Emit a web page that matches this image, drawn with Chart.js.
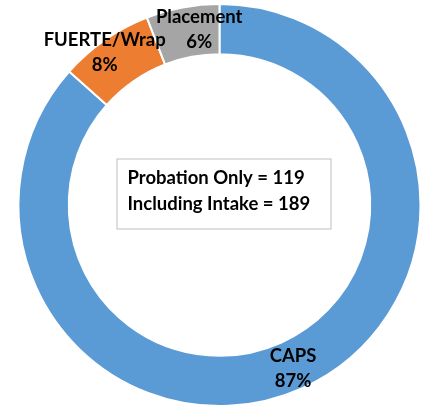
<!DOCTYPE html>
<html>
<head>
<meta charset="utf-8">
<script src="https://cdn.jsdelivr.net/npm/chart.js@4"></script>
<style>
  html, body { margin: 0; padding: 0; background: #fff; }
  #wrap { width: 430px; height: 413px; }
</style>
</head>
<body>
<div id="wrap"><canvas id="chart" width="430" height="413"></canvas></div>
<script>
// data (counts out of 119, shown as percentages)
const categories = ['CAPS', 'FUERTE/Wrap', 'Placement'];
const counts = [103, 9, 7];
const colors = ['#5B9BD5', '#ED7D31', '#A5A5A5'];
const boxLines = ['Probation Only = 119', 'Including Intake = 189'];

const FONT = 'bold 18.5px Lato, "Open Sans", sans-serif';

// nudge labels a little off the arc centre, like the excel data labels
const labelShift = [[1.5, 3], [-14.5, -8], [12, -3]];

const labelPlugin = {
  id: 'sliceLabels',
  afterDatasetsDraw(chart) {
    const ctx = chart.ctx;
    const meta = chart.getDatasetMeta(0);
    const total = counts.reduce((a, b) => a + b, 0);
    ctx.save();
    ctx.font = FONT;
    ctx.fillStyle = '#000';
    ctx.textAlign = 'center';
    ctx.textBaseline = 'middle';
    meta.data.forEach((arc, i) => {
      const p = arc.getCenterPoint();
      const x = p.x + labelShift[i][0];
      const y = p.y + labelShift[i][1];
      const pct = Math.round(counts[i] / total * 100) + '%';
      ctx.fillText(categories[i], x, y - 12.5);
      ctx.fillText(pct, x, y + 12.5);
    });

    // the text box in the hole
    const arc0 = meta.data[0];
    const cx = arc0.x, cy = arc0.y;
    ctx.fillStyle = '#fff';
    ctx.fillRect(cx - 102.5, cy - 46, 214, 70);
    ctx.strokeStyle = '#BFBFBF';
    ctx.lineWidth = 1;
    ctx.strokeRect(cx - 102.5, cy - 46, 214, 70);
    ctx.fillStyle = '#000';
    ctx.textAlign = 'left';
    ctx.fillText(boxLines[0], cx - 92, cy - 27);
    ctx.fillText(boxLines[1], cx - 92, cy - 1);
    ctx.restore();
  }
};

new Chart(document.getElementById('chart'), {
  type: 'doughnut',
  data: {
    labels: categories,
    datasets: [{
      data: counts,
      backgroundColor: colors,
      borderColor: '#fff',
      borderWidth: 2
    }]
  },
  options: {
    responsive: false,
    animation: false,
    cutout: '75%',
    layout: { padding: { left: 9, right: 0, top: 3, bottom: 6 } },
    plugins: {
      legend: { display: false },
      tooltip: { enabled: false }
    }
  },
  plugins: [labelPlugin]
});
</script>
</body>
</html>
